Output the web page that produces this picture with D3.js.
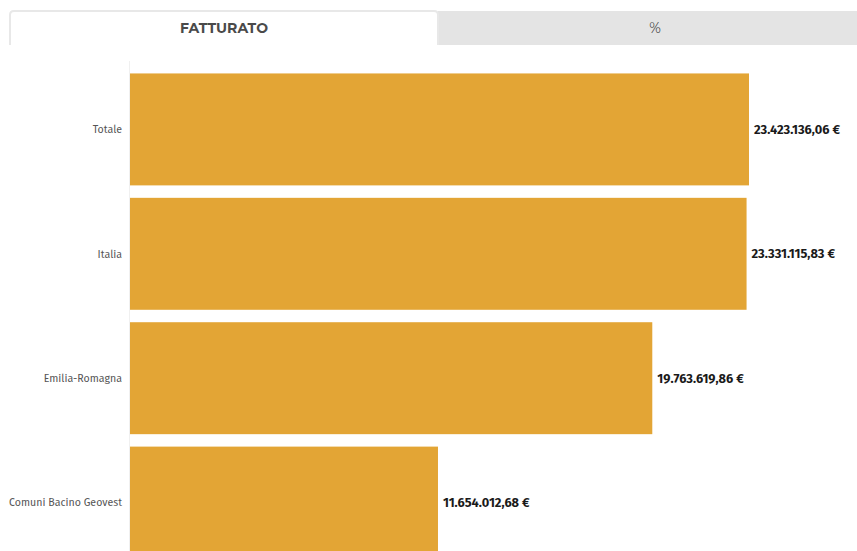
<!DOCTYPE html>
<html>
<head>
<meta charset="utf-8">
<script src="https://cdn.jsdelivr.net/npm/d3@7"></script>
<style>
  html, body { margin: 0; padding: 0; background: #fff; }
  svg { display: block; }
</style>
</head>
<body>
<div id="chart"></div>
<script>
var tabs = ["FATTURATO", "%"]
var categories = ["Totale", "Italia", "Emilia-Romagna", "Comuni Bacino Geovest"]
var values = [23423136.06, 23331115.83, 19763619.86, 11654012.68]

var width = 857
var height = 551
var margin = {top: 61, left: 130}
var barColor = "#e3a535"

var it = d3.formatLocale({decimal: ",", thousands: ".", grouping: [3], currency: ["", " €"]})
var fmt = it.format(",.2f")

var svg = d3.select("#chart")
    .append("svg")
        .attr("width", width)
        .attr("height", height)

//// tabs ////
var tabX = d3.scaleBand()
    .domain(tabs)
    .range([10, 866])

// inactive tab
svg.append("rect")
    .attr("x", tabX("%"))
    .attr("y", 11)
    .attr("width", width - tabX("%"))
    .attr("height", 34)
    .style("fill", "#e4e4e4")

// active tab
svg.append("path")
    .attr("d", "M" + tabX("FATTURATO") + ",45 V15 q0,-4 4,-4 H" + (tabX("FATTURATO") + tabX.bandwidth() - 4) + " q4,0 4,4 V45")
    .style("fill", "#fff")
    .style("stroke", "#e8e8e8")
    .style("stroke-width", 2)

svg.append("g")
    .selectAll("text")
    .data(tabs)
    .enter()
    .append("text")
        .attr("x", d => tabX(d) + tabX.bandwidth() / 2 + (d == "%" ? 3 : 0))
        .attr("y", 28)
        .attr("dy", "0.35em")
        .attr("text-anchor", "middle")
        .style("font-family", "Montserrat, 'Open Sans', sans-serif")
        .style("font-weight", d => d == "%" ? 400 : 700)
        .style("font-size", "14px")
        .style("fill", "#4a4a4a")
        .text(d => d)

//// bars ////
var y = d3.scaleBand()
    .domain(categories)
    .range([margin.top, margin.top + 510])
    .paddingInner(0.1)
    .paddingOuter(0.1)

var x = d3.scaleLinear()
    .domain([0, d3.max(values)])
    .range([margin.left, 749])

// axis line
svg.append("line")
    .attr("x1", margin.left - 0.5)
    .attr("x2", margin.left - 0.5)
    .attr("y1", margin.top)
    .attr("y2", margin.top + 510)
    .style("stroke", "#f0f0f0")

svg.append("g")
    .selectAll("rect")
    .data(categories)
    .enter()
    .append("rect")
        .attr("x", x(0))
        .attr("y", d => y(d))
        .attr("width", (d, i) => x(values[i]) - x(0))
        .attr("height", y.bandwidth())
        .style("fill", barColor)

// category labels
svg.append("g")
    .selectAll("text")
    .data(categories)
    .enter()
    .append("text")
        .attr("x", margin.left - 8)
        .attr("y", d => y(d) + y.bandwidth() / 2)
        .attr("dy", "0.35em")
        .attr("text-anchor", "end")
        .style("font-family", "'Fira Sans', 'Noto Sans', sans-serif")
        .style("font-size", "10.6px")
        .style("fill", "#555")
        .text(d => d)

// value labels
svg.append("g")
    .selectAll("text")
    .data(values)
    .enter()
    .append("text")
        .attr("x", d => x(d) + 5)
        .attr("y", (d, i) => y(categories[i]) + y.bandwidth() / 2)
        .attr("dy", "0.35em")
        .style("font-family", "'Fira Sans', 'Noto Sans', sans-serif")
        .style("font-weight", 700)
        .style("font-size", "12.8px")
        .style("fill", "#1a1a1a")
        .text(d => fmt(d) + " €")
</script>
</body>
</html>
